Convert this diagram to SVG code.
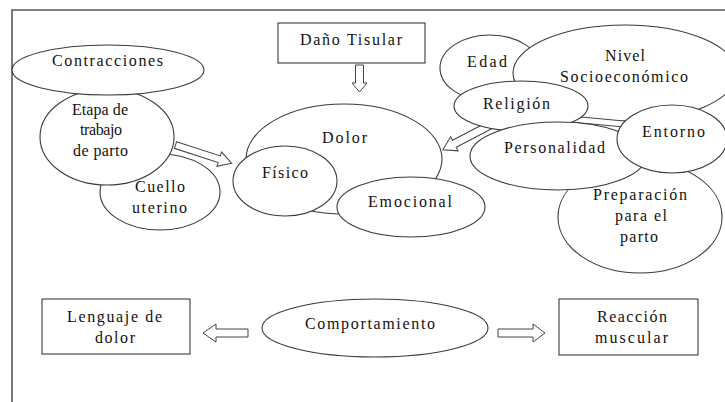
<svg xmlns="http://www.w3.org/2000/svg" width="725" height="402" viewBox="0 0 725 402" font-family="'Liberation Serif', 'DejaVu Serif', serif">
<style>
.n{fill:#fff;stroke:#3a3a3a;stroke-width:1.1}
.a{fill:#fff;stroke:#444;stroke-width:1}
.t{font-family:"Liberation Serif",serif;font-size:16px;fill:#111}
.f{fill:none;stroke:#5a5a5a;stroke-width:1.6}
</style>
<rect width="725" height="402" fill="#fff"/>
<path class="f" d="M12,402 V10 H725"/>

<g id="cuello"><ellipse class="n" cx="160" cy="192" rx="60" ry="38"/>
<text class="t" x="135" y="192" textLength="50" lengthAdjust="spacing">Cuello</text>
<text class="t" x="132" y="213" textLength="55" lengthAdjust="spacing">uterino</text></g>
<g id="etapa"><ellipse class="n" cx="107" cy="137" rx="67" ry="48"/>
<text class="t" x="72" y="115" textLength="56" lengthAdjust="spacing">Etapa de</text>
<text class="t" x="80" y="135" textLength="42" lengthAdjust="spacing">trabajo</text>
<text class="t" x="73" y="156" textLength="55" lengthAdjust="spacing">de parto</text></g>
<g id="contracciones"><ellipse class="n" cx="108" cy="70" rx="96" ry="25"/>
<text class="t" x="52" y="66" textLength="111" lengthAdjust="spacing">Contracciones</text></g>

<g id="dano"><rect class="n" x="278" y="23" width="147" height="40"/>
<text class="t" x="300" y="45" textLength="102" lengthAdjust="spacing">Daño Tisular</text></g>
<g id="dolor"><ellipse class="n" cx="344" cy="159" rx="98" ry="55"/>
<text class="t" x="322" y="143" textLength="45" lengthAdjust="spacing">Dolor</text></g>

<g id="edad"><ellipse class="n" cx="490" cy="68" rx="50" ry="33"/>
<text class="t" x="467" y="67" textLength="40" lengthAdjust="spacing">Edad</text></g>
<g id="nivel"><ellipse class="n" cx="625" cy="73" rx="112" ry="48"/>
<text class="t" x="605" y="61" textLength="40" lengthAdjust="spacing">Nivel</text>
<text class="t" x="560" y="82" textLength="128" lengthAdjust="spacing">Socioeconómico</text></g>

<g id="connectors">
<polygon class="a" points="0,-4 18,-4 18,-7.5 27,0 18,7.5 18,4 0,4" transform="translate(359.5,65) rotate(90)"/>
<polygon class="a" points="0,-3.5 46,-3.5 46,-7.5 59,0 46,7.5 46,3.5 0,3.5" transform="translate(175.5,145) rotate(18)"/>
<polygon class="a" points="0,-4 47,-4 47,-8 60,0 47,8 47,4 0,4" transform="translate(496,122) rotate(152.4)"/>
<polygon class="a" points="570,116 635,122 635,128 570,122"/>
<polygon class="a" points="0,-4 32,-4 32,-9 45,0 32,9 32,4 0,4" transform="translate(248,333) rotate(180)"/>
<polygon class="a" points="0,-4 35,-4 35,-9 47,0 35,9 35,4 0,4" transform="translate(498,333)"/>
</g>

<g id="fisico"><ellipse class="n" cx="285" cy="181" rx="52" ry="35"/>
<text class="t" x="262" y="178" textLength="46" lengthAdjust="spacing">Físico</text></g>
<g id="emocional"><ellipse class="n" cx="411" cy="207" rx="74" ry="30"/>
<text class="t" x="368" y="207" textLength="84" lengthAdjust="spacing">Emocional</text></g>

<g id="religion"><ellipse class="n" cx="521" cy="106" rx="67" ry="25"/>
<text class="t" x="483" y="109" textLength="67" lengthAdjust="spacing">Religión</text></g>
<g id="preparacion"><ellipse class="n" cx="640" cy="217" rx="82" ry="56"/>
<text class="t" x="593" y="200" textLength="94" lengthAdjust="spacing">Preparación</text>
<text class="t" x="615" y="221" textLength="52" lengthAdjust="spacing">para el</text>
<text class="t" x="620" y="242" textLength="38" lengthAdjust="spacing">parto</text></g>
<g id="personalidad"><ellipse class="n" cx="558" cy="156" rx="88" ry="34"/>
<text class="t" x="504" y="153" textLength="101" lengthAdjust="spacing">Personalidad</text></g>
<g id="entorno"><ellipse class="n" cx="672" cy="139" rx="55" ry="34"/>
<text class="t" x="642" y="137" textLength="63" lengthAdjust="spacing">Entorno</text></g>

<g id="lenguaje"><rect class="n" x="42" y="299" width="148" height="55"/>
<text class="t" x="67" y="322" textLength="95" lengthAdjust="spacing">Lenguaje de</text>
<text class="t" x="95" y="343" textLength="40" lengthAdjust="spacing">dolor</text></g>
<g id="comportamiento"><ellipse class="n" cx="375" cy="328" rx="113" ry="29"/>
<text class="t" x="305" y="329" textLength="130" lengthAdjust="spacing">Comportamiento</text></g>
<g id="reaccion"><rect class="n" x="559" y="299" width="139" height="56"/>
<text class="t" x="597" y="322" textLength="70" lengthAdjust="spacing">Reacción</text>
<text class="t" x="595" y="343" textLength="73" lengthAdjust="spacing">muscular</text></g>
</svg>
